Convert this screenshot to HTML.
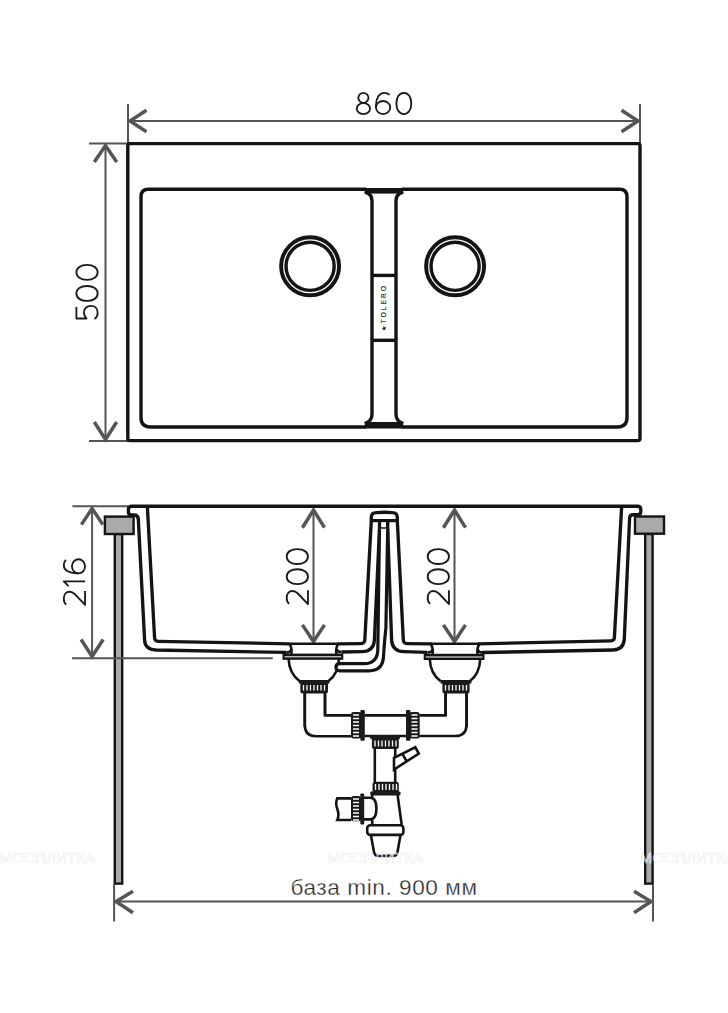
<!DOCTYPE html>
<html><head><meta charset="utf-8"><style>
html,body{margin:0;padding:0;background:#fff;}
body{width:728px;height:1013px;overflow:hidden;}
svg{display:block;}
</style></head><body>
<svg width="728" height="1013" viewBox="0 0 728 1013">
<defs>
<g id="d0"><path d="M8.25,0.8 C12.8,0.8 15.7,5.1 15.7,11.42 C15.7,17.7 12.8,22.05 8.25,22.05 C3.7,22.05 0.8,17.7 0.8,11.42 C0.8,5.1 3.7,0.8 8.25,0.8 Z"/></g>
<g id="d8"><ellipse cx="7.5" cy="5.85" rx="5.05" ry="5.05"/><ellipse cx="7.5" cy="16.55" rx="6.7" ry="5.5"/></g>
<g id="d6"><ellipse cx="7.9" cy="15.5" rx="7.1" ry="6.55"/><path d="M14.4,2.9 C12.9,1.5 11,0.8 9,0.8 C4.2,0.8 0.8,5.6 0.8,13.5 V15.5"/></g>
<g id="d5"><path d="M13,0.8 H1.4 V10.9 C3,9.2 5,8.3 7.5,8.3 C11.3,8.3 14,11.3 14,15.2 C14,19.2 11.3,22.05 7.5,22.05 C4.7,22.05 2.2,20.8 0.8,18.8"/></g>
<g id="d2"><path d="M1.2,3.2 C2.5,1.6 4.8,0.8 7.3,0.8 C11.2,0.8 14,3.2 14,6.6 C14,8.6 13,10.3 11.5,12 L0.9,22.05 H14.7"/></g>
<g id="d1"><path d="M0.4,5.6 L5.2,0.8 V22.05"/></g>
</defs>

<!-- ================= TOP VIEW ================= -->
<g fill="none" stroke="#555" stroke-width="2">
  <!-- 860 dim -->
  <line x1="128" y1="121" x2="640" y2="121"/>
  <line x1="128" y1="104" x2="128" y2="143"/>
  <line x1="640" y1="104" x2="640" y2="143"/>
  <!-- 500 dim -->
  <line x1="105.5" y1="144" x2="105.5" y2="441"/>
  <line x1="89" y1="143.6" x2="128" y2="143.6"/>
  <line x1="89" y1="441" x2="128" y2="441"/>
</g>
<g fill="none" stroke="#555" stroke-width="3.5" stroke-linecap="butt" stroke-linejoin="miter">
  <path d="M146.5,110.3 L130,121 L146.5,131.7"/>
  <path d="M621.5,110.3 L638,121 L621.5,131.7"/>
  <path d="M94.3,162 L105.5,145.5 L116.7,162"/>
  <path d="M94.3,422 L105.5,439.5 L116.7,422"/>
</g>
<g fill="none" stroke="#1a1a1a" stroke-width="1.85" stroke-linejoin="round" stroke-linecap="butt">
  <use href="#d8" x="355.9" y="92"/>
  <use href="#d6" x="375.2" y="92"/>
  <use href="#d0" x="395.6" y="92"/>
  <g transform="translate(75.6,319.9) rotate(-90)">
    <use href="#d5" x="0" y="0"/>
    <use href="#d0" x="18.2" y="0"/>
    <use href="#d0" x="39.3" y="0"/>
  </g>
</g>

<g fill="none" stroke="#141414" stroke-width="3.4">
  <rect x="127.8" y="143.6" width="512.2" height="297" rx="2"/>
  <!-- left bowl -->
  <path d="M366,189.2 H148.5 Q141,189.2 141,196.7 V417.5 Q141,427 150.5,427 H366"/>
  <!-- right bowl -->
  <path d="M402,189.2 H619.5 Q627,189.2 627,196.7 V417.5 Q627,427 617.5,427 H402"/>
  <!-- divider -->
  <path d="M364.8,192 Q372,193.5 372,201 V414 Q372,421.5 364.8,423.5"/>
  <path d="M403.2,192 Q396,193.5 396,201 V414 Q396,421.5 403.2,423.5"/>
  <line x1="372" y1="275.4" x2="396" y2="275.4"/>
  <line x1="372" y1="340.3" x2="396" y2="340.3"/>
</g>
<g fill="#141414">
  <rect x="364.7" y="188" width="38.5" height="5.6"/>
  <rect x="364.7" y="422" width="38.5" height="6.5"/>
</g>
<text transform="translate(386.3,330.5) rotate(-90)" font-family="Liberation Sans, sans-serif" font-size="6.4" fill="#111" stroke="#111" stroke-width="0.12" letter-spacing="2.2">★TOLERO</text>
<!-- drains -->
<g fill="none" stroke="#141414" stroke-width="8.6">
  <circle cx="310.1" cy="266.3" r="26.65"/>
  <circle cx="455.1" cy="266.3" r="26.65"/>
</g>
<g fill="none" stroke="#fff" stroke-width="1.2">
  <circle cx="310.1" cy="266.3" r="26.4"/>
  <circle cx="455.1" cy="266.3" r="26.4"/>
</g>

<!-- ================= SIDE VIEW ================= -->
<!-- legs + blocks -->
<g fill="#aaa" stroke="#141414" stroke-width="2.4">
  <rect x="114.8" y="534" width="7.4" height="349.6"/>
  <rect x="645.2" y="534" width="7.4" height="349.6"/>
  <rect x="104.9" y="516.6" width="28.7" height="17.4"/>
  <rect x="635" y="516.5" width="29" height="17.2"/>
</g>

<!-- dims side -->
<g fill="none" stroke="#555" stroke-width="2">
  <line x1="72.4" y1="506.2" x2="128" y2="506.2"/>
  <line x1="72.1" y1="658.2" x2="272.8" y2="658.2"/>
  <line x1="92.1" y1="508" x2="92.1" y2="656"/>
  <line x1="313.5" y1="509" x2="313.5" y2="641"/>
  <line x1="454.5" y1="509" x2="454.5" y2="641"/>
  <line x1="114.1" y1="884" x2="114.1" y2="921.5"/>
  <line x1="653" y1="884" x2="653" y2="921.5"/>
  <line x1="115" y1="901.5" x2="652" y2="901.5"/>
</g>
<g fill="none" stroke="#555" stroke-width="3.5">
  <path d="M81.4,524.6 L92.1,508.5 L102.9,524.6"/>
  <path d="M81.1,639.5 L92.1,656.5 L103.2,639.5"/>
  <path d="M302.4,527.7 L313.5,510 L324.5,527.7"/>
  <path d="M302.4,624.9 L313.5,641.5 L324.5,624.9"/>
  <path d="M443.4,527.7 L454.5,510 L465.5,527.7"/>
  <path d="M443.4,624.9 L454.5,641.5 L465.5,624.9"/>
  <path d="M133,891.3 L116,901.5 L133,912.7"/>
  <path d="M634,891.3 L651,901.5 L634,912.7"/>
</g>
<g fill="none" stroke="#1a1a1a" stroke-width="1.85" stroke-linejoin="round" stroke-linecap="butt">
  <g transform="translate(63,605.8) rotate(-90)">
    <use href="#d2" x="0" y="0"/>
    <use href="#d1" x="19.3" y="0"/>
    <use href="#d6" x="31.6" y="0"/>
  </g>
  <g transform="translate(285.9,605) rotate(-90)">
    <use href="#d2" x="0" y="0"/>
    <use href="#d0" x="20.1" y="0"/>
    <use href="#d0" x="40.2" y="0"/>
  </g>
  <g transform="translate(426.9,605) rotate(-90)">
    <use href="#d2" x="0" y="0"/>
    <use href="#d0" x="20.1" y="0"/>
    <use href="#d0" x="40.2" y="0"/>
  </g>
</g>

<!-- sink profile -->
<g fill="none" stroke="#141414" stroke-width="3.35" stroke-linejoin="round">
  <!-- outer contour -->
  <path d="M286.5,652.4 L156,650 Q145,649.5 144.6,640 L138.3,519 Q138,515 134,515 H131.5 Q128.4,515 128.4,512 V509.5 Q128.4,506.2 131.7,506.2 H637.5 Q640.8,506.2 640.8,509.5 V511.5 Q640.8,514.7 637.5,514.7 H633 Q629.8,514.7 629.6,518 L624.3,639 Q623.5,649.6 613,650 L482,652.5"/>
  <!-- inner left -->
  <path d="M290,643.8 L158,641.3 Q154.8,641.2 154.6,638 L147.4,507.5"/>
  <!-- inner right -->
  <path d="M478,643.8 L611,640.8 Q614.2,640.7 614.4,637.5 L621.6,507.5"/>
  <!-- divider cap -->
  <path d="M371.3,520.6 V517 Q371.6,512.8 376,512.6 Q384.3,512 392.6,512.6 Q397,512.8 397.3,517 V520.6 Z"/>
  <path d="M379.5,520.6 V528.8 H387.7 V520.6"/>
  <!-- line 1 -->
  <path d="M371.3,520.6 L364.8,640 Q364.6,643.5 361,643.6 L338,643.9"/>
  <!-- line 2 -->
  <path d="M379.5,528.8 L374.4,640 Q373.8,651.5 362,651.7 L341.5,652"/>
  <!-- line 5 -->
  <path d="M387.7,528.8 L391.6,640 Q392.2,651.5 404,651.7 L427.5,652.3"/>
  <!-- line 6 -->
  <path d="M397.3,520.6 L403.3,640 Q403.5,643.5 407,643.6 L432,643.8"/>
</g>
<rect x="381.6" y="522.5" width="4" height="3.5" fill="#fff"/>

<!-- drains side -->
<g id="drainL" fill="none" stroke="#141414" stroke-width="2.6">
  <path d="M289.6,643.8 Q292.2,648 291.4,655"/>
  <path d="M338,643.8 Q335.6,648 336.4,655"/>
  <path d="M286.5,652.4 Q290.6,652.4 291.3,649.5"/>
  <path d="M341.5,652 Q337.3,652 336.6,649.3"/>
  <line x1="290" y1="643.8" x2="338" y2="643.8"/>
  <path d="M288.6,659 C289,670 294,677 299.5,681 M339,659 C338.6,670 334,677 328.5,681"/>
</g>
<rect x="282.5" y="653.6" width="60.8" height="6.2" fill="#141414"/>
<line x1="284.5" y1="656.8" x2="341.3" y2="656.8" stroke="#fff" stroke-width="1"/>
<g transform="translate(141.2,0.2)">
<g fill="none" stroke="#141414" stroke-width="2.6">
  <path d="M289.6,643.8 Q292.2,648 291.4,655"/>
  <path d="M338,643.8 Q335.6,648 336.4,655"/>
  <path d="M286.5,652.3 Q290.6,652.3 291.3,649.5"/>
  <path d="M341,652.3 Q337.3,652.3 336.6,649.3"/>
  <line x1="290" y1="643.6" x2="338" y2="643.6"/>
  <path d="M288.6,659 C289,670 294,677 299.5,681 M339,659 C338.6,670 334,677 328.5,681"/>
</g>
<rect x="282.5" y="653.6" width="60.8" height="6.2" fill="#141414"/>
<line x1="284.5" y1="656.8" x2="341.3" y2="656.8" stroke="#fff" stroke-width="1"/>
</g>
<!-- overflow pipe -->
<path d="M379.5,528.8 L377.8,650 Q377.3,663.7 364,663.7 H340 Q335.9,663.7 335.9,667.3 Q335.9,670.8 340,670.8 H369 Q383.4,670.8 383.6,655 Q384.5,640 385.9,628 L387.7,528.8" fill="#fff" stroke="#141414" stroke-width="3.2"/>
<g fill="none" stroke="#141414" stroke-width="2.6">
  <line x1="304.8" y1="692" x2="304.8" y2="727"/>
  <line x1="325" y1="692" x2="325" y2="715.4"/>
  <line x1="445.6" y1="692" x2="445.6" y2="715.4"/>
  <line x1="466.7" y1="692" x2="466.7" y2="727"/>
</g>
<!-- elbows and tee -->
<g fill="none" stroke="#141414" stroke-width="2.6">
  <path d="M304.8,692 V725 Q304.8,736.2 316,736.2 H351.5"/>
  <path d="M325,693 V715.4 H351.5"/>
  <path d="M419.5,715.4 H445.6 V693"/>
  <path d="M419.5,736 H455.2 Q466.5,736 466.5,724.7 V693"/>
  <line x1="364.5" y1="715.4" x2="406" y2="715.4"/>
  <line x1="364.5" y1="736" x2="406" y2="736"/>
  <!-- vertical pipe -->
  <line x1="374.8" y1="747" x2="374.8" y2="782"/>
  <line x1="395.2" y1="747" x2="395.2" y2="757.5"/>
  <line x1="395.2" y1="769.5" x2="395.2" y2="782"/>
  <!-- side branch -->
  <path d="M394,757.8 L415.3,747.3 L418.8,753.5 L394,769.6 Z"/>
  <line x1="402.2" y1="753.3" x2="406.5" y2="761.2"/>
  <!-- bottle trap body -->
  <path d="M372.2,795 V797.5 M372.2,819.5 V825"/>
  <path d="M397.6,795 L401.7,825"/>
  <rect x="367.2" y="825.2" width="36.2" height="9.7" rx="3"/>
  <path d="M370.9,835 L374,852 Q374.6,855.9 378.5,855.9 H393 Q397,855.9 397.5,852 L400.5,835"/>
  <!-- side connector -->
  <path d="M364,797.8 H370 Q376.4,797.8 376.4,808.6 Q376.4,819.4 370,819.4 H364"/>
  <path d="M351,798.4 H337.3 Q335,803 337.3,809 Q339.5,815 337.3,820 H351"/>
</g>
<!-- nuts -->
<g fill="#1a1a1a">
  <!-- left drain nut -->
  <rect x="298.8" y="680" width="30.6" height="3.8" rx="1"/>
  <rect x="300.3" y="682.5" width="27.7" height="11" rx="2.5"/>
  <!-- right drain nut -->
  <rect x="440.5" y="680" width="30.9" height="3.8" rx="1"/>
  <rect x="442.4" y="682.5" width="27.2" height="11" rx="2.5"/>
  <!-- tee lower nut -->
  <rect x="370.3" y="735" width="29.6" height="4.2" rx="1"/>
  <rect x="371.9" y="738" width="26.9" height="11" rx="2.5"/>
  <!-- trap top nut -->
  <rect x="372.5" y="781.7" width="26.3" height="11" rx="2.5"/>
  <rect x="370.3" y="791.6" width="30.2" height="4" rx="1"/>
  <!-- left union -->
  <rect x="351" y="712.1" width="10.5" height="26.4" rx="2.5"/>
  <rect x="360.4" y="710" width="4.4" height="30.7" rx="1"/>
  <!-- right union -->
  <rect x="406" y="710" width="4.4" height="30.7" rx="1"/>
  <rect x="409.2" y="712.1" width="10.5" height="26.4" rx="2.5"/>
  <!-- side union -->
  <rect x="351" y="796" width="10" height="25.3" rx="2.5"/>
  <rect x="360.3" y="793.5" width="3.9" height="30.9" rx="1"/>
</g>
<g stroke="#fff" stroke-width="1.3">
  <path d="M303.5,685 V690.5 M307,685 V690.5 M310.5,685 V690.5 M314,685 V690.5 M317.5,685 V690.5 M321,685 V690.5 M324.5,685 V690.5"/>
  <path d="M445.5,685 V690.5 M449,685 V690.5 M452.5,685 V690.5 M456,685 V690.5 M459.5,685 V690.5 M463,685 V690.5 M466.5,685 V690.5"/>
  <path d="M375,740.5 V746.5 M378.5,740.5 V746.5 M382,740.5 V746.5 M385.5,740.5 V746.5 M389,740.5 V746.5 M392.5,740.5 V746.5 M396,740.5 V746.5"/>
  <path d="M375.5,784 V790 M379,784 V790 M382.5,784 V790 M386,784 V790 M389.5,784 V790 M393,784 V790 M396.5,784 V790"/>
  <path d="M353,715 H359 M353,718.5 H359 M353,722 H359 M353,725.5 H359 M353,729 H359 M353,732.5 H359 M353,736 H359"/>
  <path d="M411.5,715 H417.5 M411.5,718.5 H417.5 M411.5,722 H417.5 M411.5,725.5 H417.5 M411.5,729 H417.5 M411.5,732.5 H417.5 M411.5,736 H417.5"/>
  <path d="M353,799 H359 M353,802.5 H359 M353,806 H359 M353,809.5 H359 M353,813 H359 M353,816.5 H359 M353,820 H359"/>
</g>

<!-- watermarks -->
<g font-family="Liberation Sans, sans-serif" font-size="14.5" fill="#fff" fill-opacity="0.35" stroke="#ececec" stroke-width="0.5">
  <text x="0" y="863" textLength="95">МОСПЛИТКА</text>
  <text x="328" y="863" textLength="95">МОСПЛИТКА</text>
  <text x="640" y="863" textLength="95">МОСПЛИТКА</text>
</g>

<text x="290.5" y="895.3" font-family="Liberation Sans, sans-serif" font-size="22.6" fill="#222" textLength="186.5" lengthAdjust="spacing">база min. 900 мм</text>
<text x="290.5" y="895.3" font-family="Liberation Sans, sans-serif" font-size="22.6" fill="none" stroke="#fff" stroke-width="0.35" textLength="186.5" lengthAdjust="spacing">база min. 900 мм</text>
</svg>
</body></html>
